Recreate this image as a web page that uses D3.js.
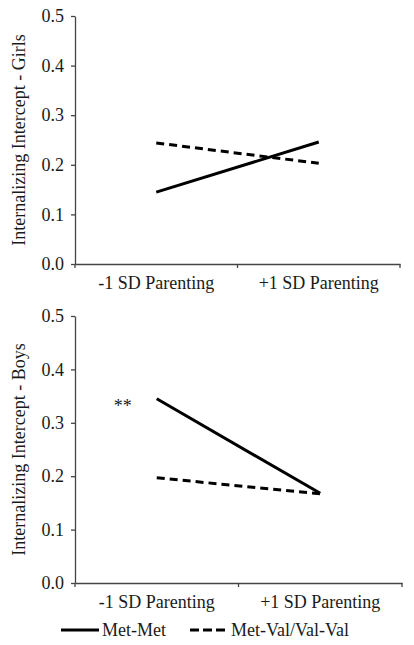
<!DOCTYPE html>
<html><head><meta charset="utf-8">
<script src="https://cdn.jsdelivr.net/npm/d3@7"></script>
<style>body{margin:0;background:#fff}svg{display:block}svg text{font-family:"Liberation Serif","Times New Roman",serif !important;}</style>
</head><body>
<svg id="c" width="414" height="645"></svg>
<script>
const categories = ["-1 SD Parenting", "+1 SD Parenting"];
const seriesNames = ["Met-Met", "Met-Val/Val-Val"];
const girlsMetMet = [0.145, 0.246];
const girlsMetVal = [0.244, 0.203];
const boysMetMet = [0.345, 0.168];
const boysMetVal = [0.197, 0.167];
const yTicks = [0, 0.1, 0.2, 0.3, 0.4, 0.5];
const panelTitles = ["Internalizing Intercept - Girls", "Internalizing Intercept - Boys"];

const svg = d3.select("#c");
const ink = "#1a1a1a";

const panels = [
  {title: panelTitles[0], data: [girlsMetMet, girlsMetVal], top: 16, bottom: 264, left: 75, right: 400, note: null},
  {title: panelTitles[1], data: [boysMetMet, boysMetVal], top: 316, bottom: 583, left: 75, right: 402, note: "**"}
];
const dashes = [null, "8,5"];

panels.forEach(p => {
  const x = d3.scaleBand().domain(categories).range([p.left, p.right]).padding(0);
  const y = d3.scaleLinear().domain([0, 0.5]).range([p.bottom, p.top]);
  const g = svg.append("g");

  const ya = g.append("g").attr("transform", `translate(${p.left},0)`)
    .call(d3.axisLeft(y).tickValues(yTicks).tickFormat(d3.format(".1f")).tickSize(4).tickSizeOuter(0).tickPadding(7));
  ya.selectAll("text").attr("font-size", 18).attr("fill", ink);
  ya.selectAll("line,path").attr("stroke", "#444").attr("stroke-width", 1.3);

  const xa = g.append("g").attr("transform", `translate(0,${p.bottom})`)
    .call(d3.axisBottom(x).tickSize(0).tickPadding(12));
  xa.selectAll("text").attr("font-size", 18).attr("fill", ink);
  xa.select("path").attr("stroke", "#444").attr("stroke-width", 1.3);
  const edges = [x.range()[0]].concat(categories.map(c => x(c) + x.bandwidth()));
  g.selectAll("line.xt").data(edges).join("line").attr("class", "xt")
    .attr("x1", d => d).attr("x2", d => d).attr("y1", p.bottom).attr("y2", p.bottom + 4)
    .attr("stroke", "#444").attr("stroke-width", 1.3);

  g.append("text").attr("transform", `translate(25,${(p.top + p.bottom) / 2}) rotate(-90)`)
    .attr("text-anchor", "middle").attr("font-size", 18).attr("fill", ink)
    .text(p.title);

  const line = d3.line().x((d, i) => x(categories[i]) + x.bandwidth() / 2).y(d => y(d));
  p.data.forEach((s, k) => {
    g.append("path").datum(s).attr("d", line).attr("fill", "none").attr("stroke", "#000")
      .attr("stroke-width", 3).attr("stroke-dasharray", dashes[k]);
  });

  if (p.note) {
    g.append("text").attr("x", x(categories[0]) + x.bandwidth() / 2 - 34).attr("y", y(p.data[0][0]) + 13)
      .attr("text-anchor", "middle").attr("font-size", 18).attr("fill", ink)
      .text(p.note);
  }
});

// legend
const leg = svg.append("g");
const legItems = [{x: 61, w: 38}, {x: 190, w: 38}];
seriesNames.forEach((n, k) => {
  const it = legItems[k];
  leg.append("line").attr("x1", it.x).attr("x2", it.x + it.w).attr("y1", 630).attr("y2", 630)
    .attr("stroke", "#000").attr("stroke-width", 3).attr("stroke-dasharray", dashes[k] ? "9,4" : null);
  leg.append("text").attr("x", it.x + it.w + 3).attr("y", 636)
    .attr("font-size", 18).attr("fill", ink).text(n);
});
</script>
</body></html>
